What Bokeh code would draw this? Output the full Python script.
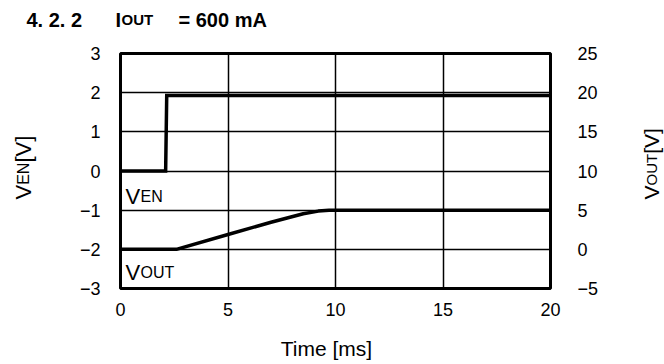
from math import pi
from bokeh.plotting import figure
from bokeh.models import Range1d, LinearAxis, FixedTicker, Label
from bokeh.embed import file_html
from bokeh.resources import INLINE

# ---- data ----
t_en = [0.0, 2.1, 2.15, 20.0]
v_en = [0.0, 0.0, 1.93, 1.93]
t_out = [0.0, 2.6, 5.0, 7.0, 8.5, 9.2, 9.7, 20.0]
v_out = [0.0, 0.0, 1.9, 3.45, 4.55, 4.88, 5.0, 5.0]
x_ticks = [0, 5, 10, 15, 20]
y_left_ticks = [-3, -2, -1, 0, 1, 2, 3]
y_right_ticks = [-5, 0, 5, 10, 15, 20, 25]

FONT = "Liberation Sans"
W, H = 664, 364
FL, FR, FT, FB = 120, 550, 53, 288
OFF = 8  # side-panel labels in canvas units render shifted by this much


def lab(p, px, py, text, size, bold=False, align="left", angle=0.0, place="center"):
    off = 0 if place == "center" else OFF
    lb = Label(x=px - off, y=py - off, x_units="canvas", y_units="canvas",
               text=text, text_font=FONT,
               text_font_size=f"{size}px",
               text_font_style="bold" if bold else "normal",
               text_align=align, text_baseline="alphabetic",
               text_color="black", angle=angle)
    p.add_layout(lb, place)


p = figure(frame_width=FR - FL, frame_height=FB - FT,
           min_border_left=FL, min_border_top=FT,
           min_border_right=W - FR, min_border_bottom=H - FB,
           x_range=Range1d(0, 20), y_range=Range1d(-3, 3),
           output_backend="svg", toolbar_location=None,
           background_fill_color="white", border_fill_color="white")
p.extra_y_ranges = {"vout": Range1d(-5, 25)}

p.outline_line_color = "black"
p.outline_line_width = 3
p.xgrid.ticker = FixedTicker(ticks=x_ticks)
p.ygrid.ticker = FixedTicker(ticks=y_left_ticks)
for g in (p.xgrid, p.ygrid):
    g.grid_line_color = "black"
    g.grid_line_width = 1.5
    g.grid_line_alpha = 1.0


def style_axis(ax, ticks, standoff):
    ax.ticker = FixedTicker(ticks=ticks)
    ax.major_label_overrides = {t: (str(t).replace("-", "\u2212")) for t in ticks}
    ax.axis_line_color = None
    ax.major_tick_line_color = None
    ax.minor_tick_line_color = None
    ax.major_tick_out = 0
    ax.major_tick_in = 0
    ax.major_label_text_font = FONT
    ax.major_label_text_font_size = "18px"
    ax.major_label_text_color = "black"
    ax.major_label_standoff = standoff


style_axis(p.xaxis[0], x_ticks, 14)
style_axis(p.yaxis[0], y_left_ticks, 20)
ax_r = LinearAxis(y_range_name="vout")
style_axis(ax_r, y_right_ticks, 27)
p.add_layout(ax_r, "right")

p.line(t_en, v_en, line_color="black", line_width=3.5, line_join="miter")
p.line(t_out, v_out, y_range_name="vout", line_color="black", line_width=3.5)

# in-plot labels
lab(p, 125, 196, "V", 22)
lab(p, 140, 196, "EN", 16)
lab(p, 125, 272, "V", 22)
lab(p, 140, 272, "OUT", 16)

# title (pieces spread over the side panels so that no panel grows)
lab(p, 34, 27, "4. 2. 2" + "\u00a0" * 6 + "I", 20, bold=True, place="above")
lab(p, 129, 27, "OUT", 15, bold=True, place="below")
lab(p, 186, 27, "= 600 mA", 20, bold=True, place="above")

# x axis label
lab(p, 334, 356, "Time [ms]", 21, align="center", place="below")

# left axis label (rotated)
lab(p, 31, 207, "V", 22, angle=pi / 2, place="left")
lab(p, 31, 192.3, "EN", 16, angle=pi / 2, place="left")
lab(p, 31, 170.1, " [V]", 22, angle=pi / 2, place="left")

# right axis label (rotated)
lab(p, 659, 207, "V", 21, angle=pi / 2, place="right")
lab(p, 659, 193, "OUT", 15, angle=pi / 2, place="right")
lab(p, 659, 161.3, " [V]", 21, angle=pi / 2, place="right")

open("out.html", "w").write(file_html(p, INLINE))
